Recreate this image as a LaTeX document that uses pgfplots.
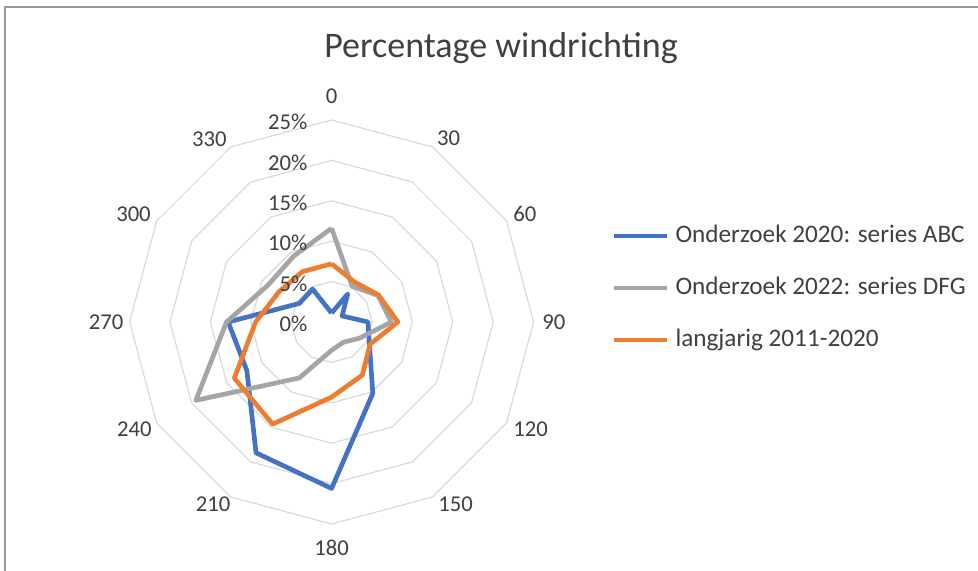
\documentclass[border=0pt]{standalone}
\usepackage{pgfplots}
\pgfplotsset{compat=1.18}
\usepgfplotslibrary{polar}
\usepackage{fontspec}
\setmainfont{Carlito}
\definecolor{sBlue}{HTML}{4472C4}
\definecolor{sGray}{HTML}{A5A5A5}
\definecolor{sOrange}{HTML}{ED7D31}
\definecolor{gridc}{HTML}{D9D9D9}
\definecolor{txt}{HTML}{404040}
\tikzset{lbl/.style={inner sep=0pt, font=\fontsize{17}{20}\selectfont, text=txt}}
\begin{document}
\begin{tikzpicture}[x=0.75pt,y=0.75pt]
\useasboundingbox (0,0) rectangle (978,571);
\draw[color=black!40, line width=0.9pt] (5,0) -- (5,564) -- (978,564);
\node[font=\fontsize{27}{30}\selectfont, text=txt, anchor=base] at (501,513) {Percentage windrichting};
\begin{polaraxis}[
  at={(410.4,308.2)}, anchor=center,
  scale only axis, width=303pt, height=303pt,
  xmin=0, xmax=360, ymin=0, ymax=25,
  hide axis, clip=false,
  legend style={at={(axis description cs:1.183,0.5837)}, anchor=west, draw=none, fill=none,
    font=\fontsize{18.9}{21}\selectfont, text=txt, row sep=22pt,
    nodes={inner sep=0pt, text height=13pt, text depth=4pt}},
  legend cell align=left,
  legend image code/.code={\draw[#1, line width=3.3pt] (0pt,0pt) -- (40pt,0pt);},
  /tikz/every odd column/.append style={column sep=4.5pt},
]
\pgfplotsinvokeforeach{5,10,15,20,25}{
  \addplot[forget plot, gridc, line width=0.9pt] coordinates {(0,#1)(30,#1)(60,#1)(90,#1)(120,#1)(150,#1)(180,#1)(210,#1)(240,#1)(270,#1)(300,#1)(330,#1)(360,#1)};
}
\addplot[sBlue, line width=3.5pt, line join=round] coordinates {(90,1.1)(60,4.0)(30,1.5)(0,4.5)(330,5.4)(300,10.2)(270,20.6)(240,18.7)(210,12.1)(180,12.8)(150,4.6)(120,4.7)(90,1.1)};
\addlegendentry{Onderzoek 2020: series ABC}
\addplot[sGray, line width=3.5pt, line join=round] coordinates {(90,11.6)(60,5.1)(30,6.6)(0,7.4)(330,4.0)(300,2.9)(270,3.5)(240,8.0)(210,19.4)(180,13.0)(150,9.1)(120,9.4)(90,11.6)};
\addlegendentry{Onderzoek 2022: series DFG}
\addplot[sOrange, line width=3.5pt, line join=round] coordinates {(90,7.2)(60,5.7)(30,6.7)(0,8.2)(330,5.5)(300,7.6)(270,9.3)(240,14.6)(210,13.9)(180,9.4)(150,7.5)(120,7.2)(90,7.2)};
\addlegendentry{langjarig 2011-2020}
\pgfplotsinvokeforeach{0,5,10,15,20,25}{
  \node[lbl, anchor=east, xshift=-18pt, yshift=-1.5pt] at (axis cs:90,#1) {#1\%};
}
\node[lbl] at (axis cs:90,28.0) {0};
\node[lbl] at (axis cs:57.5,26.95) {30};
\node[lbl] at (axis cs:29.1,27.37) {60};
\node[lbl] at (axis cs:0,27.5) {90};
\node[lbl] at (axis cs:331.6,28.0) {120};
\node[lbl] at (axis cs:304.3,27.24) {150};
\node[lbl] at (axis cs:270,27.9) {180};
\node[lbl] at (axis cs:237,26.9) {210};
\node[lbl] at (axis cs:208.6,27.8) {240};
\node[lbl] at (axis cs:180,27.9) {270};
\node[lbl] at (axis cs:151.5,27.9) {300};
\node[lbl] at (axis cs:123.7,27.25) {330};
\end{polaraxis}
\end{tikzpicture}
\end{document}
